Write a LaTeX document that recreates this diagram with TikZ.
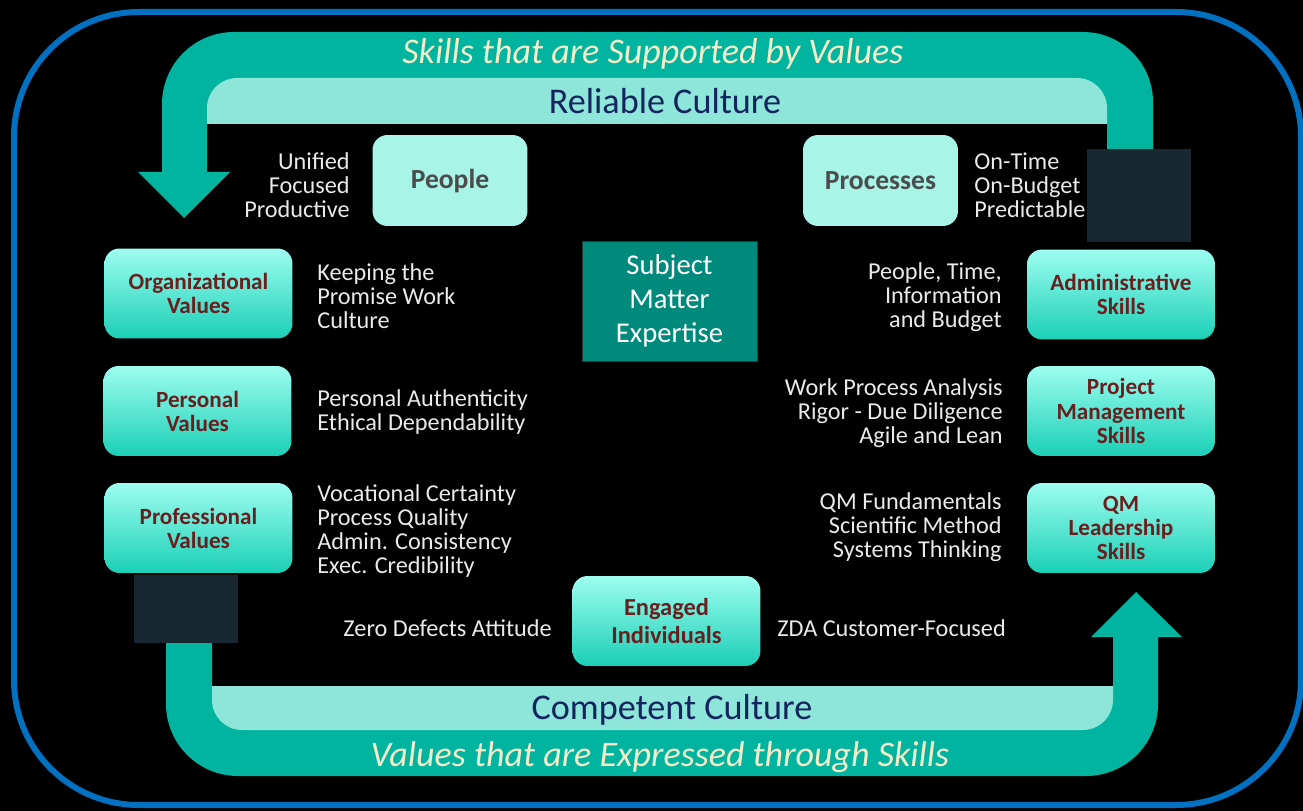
\documentclass[tikz,border=0pt]{standalone}
\usepackage{fontspec}
\setmainfont{Carlito}
\usepackage{xcolor}
\usepackage{tikz}

\definecolor{loopteal}{HTML}{00B4A0}
\definecolor{bandteal}{HTML}{8EE6DA}
\definecolor{creamtxt}{HTML}{F3EDC8}
\definecolor{navytxt}{HTML}{14245E}
\definecolor{frameblue}{HTML}{0070C0}
\definecolor{mintfill}{HTML}{A8F4E7}
\definecolor{gradtop}{HTML}{9DFDF0}
\definecolor{gradbot}{HTML}{1BCFB6}
\definecolor{maroontxt}{HTML}{6A1E1E}
\definecolor{smefill}{HTML}{008A7B}
\definecolor{patchgray}{HTML}{182833}
\definecolor{notetxt}{HTML}{EAEAEA}

\begin{document}
\begin{tikzpicture}[
  x=0.02cm, y=-0.02cm,
  valbox/.style={rounded corners=0.3cm, top color=gradtop, bottom color=gradbot,
                 minimum width=3.76cm, minimum height=1.8cm, inner sep=0pt,
                 align=center, text=maroontxt,
                 font=\fontsize{13.2}{13.7}\selectfont\bfseries},
  plainbox/.style={rounded corners=0.3cm, fill=mintfill,
                   minimum width=3.1cm, minimum height=1.82cm, inner sep=0pt,
                   text=black!70, font=\fontsize{15.7}{18}\selectfont\bfseries},
  note/.style={inner sep=0pt, text=notetxt,
               font=\fontsize{13.8}{13.7}\selectfont},
  motto/.style={inner sep=0pt, text=creamtxt,
                font=\fontsize{20.5}{22}\selectfont\itshape},
  culture/.style={inner sep=0pt, text=navytxt,
                  font=\fontsize{20.6}{22}\selectfont},
]
  % Page and frame
  \useasboundingbox (0,0) rectangle (1303,811);
  \fill[black] (0,0) rectangle (1303,811);
  \draw[frameblue, line width=0.12cm, rounded corners=2.5cm]
    (14,12) rectangle (1301,805);

  % Upper loop arrow
  \fill[loopteal] (138,172) -- (162,172) -- (162,104)
    arc[start angle=180, end angle=270, radius=72] -- (1083,32)
    arc[start angle=270, end angle=360, radius=70] -- (1153,175)
    -- (1107,175) -- (1107,124) -- (207,124) -- (207,172)
    -- (230,172) -- (184,218) -- cycle;
  \fill[bandteal] (207,124) -- (207,108)
    arc[start angle=180, end angle=270, radius=30] -- (1077,78)
    arc[start angle=270, end angle=360, radius=30] -- (1107,124) -- cycle;

  % Lower loop arrow
  \fill[loopteal] (212,600) -- (166,600) -- (166,704)
    arc[start angle=180, end angle=90, radius=72] -- (1086,776)
    arc[start angle=90, end angle=0, radius=72] -- (1158,637)
    -- (1182,637) -- (1136,592) -- (1091,637) -- (1113,637)
    -- (1113,686) -- (212,686) -- cycle;
  \fill[bandteal] (212,686) -- (1113,686) -- (1113,700)
    arc[start angle=0, end angle=90, radius=30] -- (242,730)
    arc[start angle=90, end angle=180, radius=30] -- cycle;

  % Patches over the arrow stems
  \fill[patchgray] (1087,149) rectangle (1191,242);
  \fill[patchgray] (134,575) rectangle (238,643);

  % Loop captions
  \node[motto] (topmotto) at (653,54) {Skills that are Supported by Values};
  \node[culture] (reliable) at (665,101) {Reliable Culture};
  \node[culture] (competent) at (672,710) {Competent Culture};
  \node[motto] (bottommotto) at (660,757)
    {Values that are Expressed through Skills};

  % Top boxes
  \node[plainbox] (people) at (450,180.5) {People};
  \node[plainbox] (processes) at (880.5,180.5) {Processes};
  \node[note, anchor=east, align=right] (peoplenote) at (350,185)
    {Unified\\Focused\\Productive};
  \node[note, anchor=west, align=left] (procnote) at (974,185)
    {On-Time\\On-Budget\\Predictable};

  % Centre box
  \node[draw=black!80, fill=smefill, minimum width=3.5cm, minimum height=2.4cm,
        inner sep=0pt, align=center, text=white,
        font=\fontsize{16.3}{19.4}\selectfont] (sme) at (669.5,301)
    {Subject\\Matter\\Expertise};

  % Values column
  \node[valbox] (orgval) at (198.5,293.5) {Organizational\\Values};
  \node[valbox] (persval) at (197.5,411) {Personal\\Values};
  \node[valbox] (profval) at (198.5,528) {Professional\\Values};
  \node[note, anchor=west, align=left] (orgnote) at (317,296)
    {Keeping the\\Promise Work\\Culture};
  \node[note, anchor=west, align=left] (persnote) at (317,412)
    {Personal Authenticity\\Ethical Dependability};
  \node[note, anchor=west, align=left] (profnote) at (317,531)
    {Vocational Certainty\\Process Quality\\Admin. Consistency\\Exec. Credibility};

  % Skills column
  \node[valbox] (admin) at (1121,294.5) {Administrative\\Skills};
  \node[valbox] (pm) at (1121,411) {Project\\Management\\Skills};
  \node[valbox] (qmlead) at (1121,528) {QM\\Leadership\\Skills};
  \node[note, anchor=east, align=right] (adminnote) at (1002,297)
    {People, Time,\\Information\\and Budget};
  \node[note, anchor=east, align=right] (pmnote) at (1003,413)
    {Work Process Analysis\\Rigor - Due Diligence\\Agile and Lean};
  \node[note, anchor=east, align=right] (qmnote) at (1002,527)
    {QM Fundamentals\\Scientific Method\\Systems Thinking};

  % Bottom box
  \node[valbox, font=\fontsize{13.9}{15.9}\selectfont\bfseries] (engaged)
    at (666.5,621) {Engaged\\Individuals};
  \node[note, anchor=east] (zdleft) at (552,628) {Zero Defects Attitude};
  \node[note, anchor=west] (zdright) at (777,628) {ZDA Customer-Focused};

\end{tikzpicture}
\end{document}
